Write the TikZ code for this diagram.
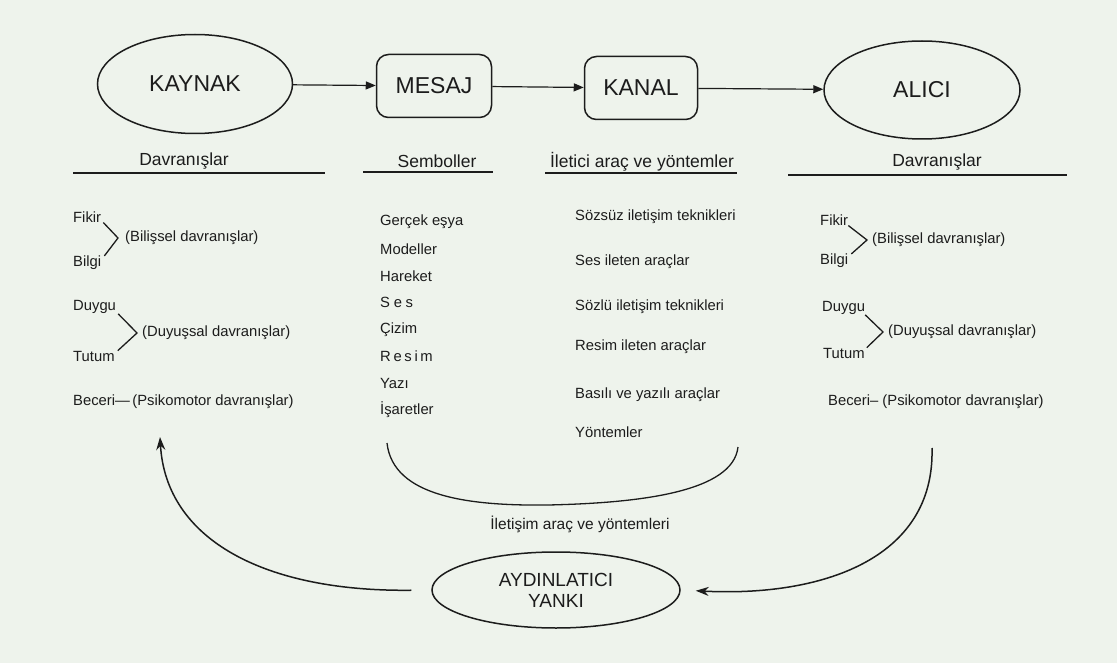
\documentclass[tikz,border=0pt]{standalone}
\usepackage{fontspec}
\setmainfont{Liberation Sans}
\usepackage{tikz}
\usetikzlibrary{arrows.meta,shapes.geometric,positioning}
\definecolor{paper}{RGB}{238,243,236}
\definecolor{ink}{RGB}{28,28,28}

\begin{document}
\begin{tikzpicture}[
  x=1pt, y=-1pt,
  every node/.style={text=ink, inner sep=0pt},
  ovalnode/.style={ellipse, draw=ink, line width=1.5pt, font=\fontsize{23}{26}\selectfont},
  boxnode/.style={rectangle, rounded corners=12pt, draw=ink, line width=1.5pt, font=\fontsize{23}{26}\selectfont},
  head/.style={font=\fontsize{17.5}{20}\selectfont},
  item/.style={anchor=west, font=\fontsize{14.8}{17}\selectfont},
  flow/.style={-{Triangle[length=10pt,width=8pt]}, line width=1.2pt, draw=ink},
  back/.style={-{Stealth[length=13pt,width=9pt]}, line width=1.5pt, draw=ink},
  rule/.style={line width=1.3pt, draw=ink}
]
\fill[paper] (0,0) rectangle (1117,663);
\useasboundingbox (0,0) rectangle (1117,663);

% chain
\node[ovalnode, minimum width=195pt, minimum height=99pt] (kaynak) at (195,84) {KAYNAK};
\node[boxnode, minimum width=115pt, minimum height=63pt] (mesaj) at (434,86) {MESAJ};
\node[boxnode, minimum width=113pt, minimum height=63pt] (kanal) at (641,88) {KANAL};
\node[ovalnode, minimum width=196pt, minimum height=98pt] (alici) at (922,90) {ALICI};
\draw[flow] (kaynak) -- (mesaj);
\draw[flow] (mesaj) -- (kanal);
\draw[flow] (kanal) -- (alici);

% headings
\node[head] (hsrc) at (184,161) {Davranışlar};
\node[head] (hsym) at (437,161) {Semboller};
\node[head] (hch) at (642,162) {İletici araç ve yöntemler};
\node[head] (hrec) at (937,162) {Davranışlar};
\draw[rule] (73,173) -- (325,173);
\draw[rule] (363,172) -- (493,172);
\draw[rule] (545,173) -- (737,173);
\draw[rule] (788,175) -- (1067,175);

% source side
\node[item] (fikirL) at (73,217) {Fikir};
\node[item] (bilgiL) at (73,263) {Bilgi};
\node[item] (bilisselL) at (125,238) {(Bilişsel davranışlar)};
\node[item] (duyguL) at (73,307) {Duygu};
\node[item] (tutumL) at (73,356) {Tutum};
\node[item] (duyussalL) at (142,333) {(Duyuşsal davranışlar)};
\node[item] (beceriL) at (73,402) {Beceri—\,(Psikomotor davranışlar)};
\draw[rule] ([xshift=2pt]fikirL.south east) -- ([xshift=-7pt]bilisselL.west) -- ([xshift=3pt]bilgiL.north east);
\draw[rule] ([xshift=2pt]duyguL.south east) -- ([xshift=-5pt]duyussalL.west) -- ([xshift=3pt]tutumL.north east);

% symbols
\foreach \t [count=\i from 0] in {Gerçek eşya, Modeller, Hareket,
    {\addfontfeature{LetterSpace=25}Ses}, Çizim,
    {\addfontfeature{LetterSpace=18}Resim}, Yazı, İşaretler}
  \node[item] (sym\i) at (380,222+26.86*\i) {\t};

% channel tools
\foreach \t/\y [count=\i from 0] in {Sözsüz iletişim teknikleri/217, Ses ileten araçlar/262,
    Sözlü iletişim teknikleri/307, Resim ileten araçlar/347,
    Basılı ve yazılı araçlar/395, Yöntemler/432}
  \node[item] (tool\i) at (575,\y) {\t};

% receiver side
\node[item] (fikirR) at (820,220) {Fikir};
\node[item] (bilgiR) at (820,261) {Bilgi};
\node[item] (bilisselR) at (872,240) {(Bilişsel davranışlar)};
\node[item] (duyguR) at (822,308) {Duygu};
\node[item] (tutumR) at (823,353) {Tutum};
\node[item] (duyussalR) at (888,332) {(Duyuşsal davranışlar)};
\node[item] (beceriR) at (828,402) {Beceri– (Psikomotor davranışlar)};
\draw[rule] (fikirR.south east) -- ([xshift=-5pt]bilisselR.west) -- ([xshift=3pt]bilgiR.north east);
\draw[rule] (duyguR.south east) -- ([xshift=-5pt]duyussalR.west) -- ([xshift=2pt]tutumR.north east);

% tools brace
\draw[rule] (387,443) .. controls (393,497) and (470,506) .. (548,505)
  .. controls (640,503) and (733,492) .. (738,447);
\node[font=\fontsize{15.5}{18}\selectfont] (tools) at (580,524) {İletişim araç ve yöntemleri};

% feedback
\node[ovalnode, minimum width=248pt, minimum height=76pt, align=center,
  font=\fontsize{19}{21}\selectfont] (yanki) at (556,590) {AYDINLATICI\\YANKI};
\coordinate (fbtip) at (160,437);
\coordinate (fbstart) at (932,448);
\draw[back, shorten <=20pt] (yanki.west) .. controls (265,592) and (166,540) .. (fbtip);
\draw[back, shorten >=15pt] (fbstart) .. controls (935,560) and (820,597) .. (yanki.east);
\end{tikzpicture}
\end{document}
